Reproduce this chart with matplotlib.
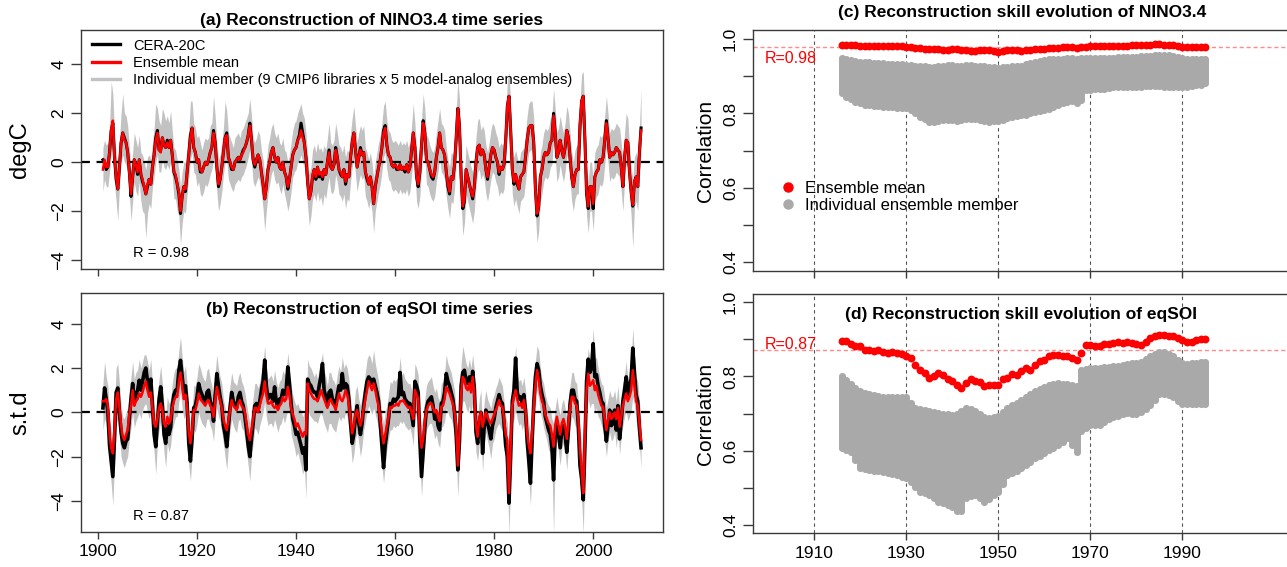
import numpy as np
import matplotlib
matplotlib.use('Agg')
import matplotlib.pyplot as plt
from matplotlib.lines import Line2D

plt.rcParams['font.family'] = ['Liberation Sans', 'DejaVu Sans']

# ---------------- data: time series, 3 values per year (Jan, May, Sep), 1901-2009
nino_mean = [
    -0.3, 0.1, -0.2, -0.2, 0.4, 1.3, 1.7, 0.2, -0.6, -1.1, -0.2, 0.8, 1.2, 0.9, 0.8, 0.4, -0.4, -1.3, -0.6, 0.1, -0.1, -0.4, 0.1, -0.5, -0.7, -1.0, -1.3,
    -0.9, -0.7, -0.9, -0.2, 0.3, 0.9, 1.2, 0.5, 0.4, 1.0, 0.7, 0.6, 0.8, 0.6, 0.9, 0.3, -0.4, -0.5, -0.9, -1.2, -2.0, -1.4, -1.0, -1.1, -0.4, 0.3, 1.0, 1.4, 0.6, 0.4,
    0.0, 0.1, -0.3, -0.4, -0.2, 0.0, -0.1, 0.1, 0.4, 0.6, 1.2, 0.8, -0.2, -0.9, -0.7, -0.2, 0.4, 1.0, 1.1, 0.2, 0.0, -0.2, -0.3, 0.0, 0.1, 0.2, 0.1, 0.3, 0.4, 0.6,
    0.8, 1.1, 1.5, 0.9, 0.1, -0.1, 0.1, 0.3, 0.1, -0.4, -0.9, -1.5, -1.0, -0.3, 0.0, 0.4, 0.6, 0.2, 0.0, 0.2, -0.2, -0.3, 0.0, -0.4, -0.6, -1.0, -0.7, -0.2, 0.3, 0.5,
    0.6, 0.9, 1.0, 1.3, 1.0, 0.8, 0.2, -0.8, -1.5, -1.2, -0.5, -0.3, -0.6, -0.2, -0.5, -0.4, -0.6, -0.3, -0.5, 0.0, 0.4, -0.2, -0.3, -0.1, 0.5, 0.2, -0.3, -0.4, -0.6, -0.3,
    -0.8, -0.5, -0.6, 0.2, 0.8, 1.2, 0.5, -0.2, 0.2, 0.5, 0.3, 0.4, -0.4, -0.6, -0.9, -0.6, -1.0, -1.7, -1.0, -0.6, -0.2, 0.1, 0.6, 1.2, 1.4, 0.7, 0.3, 0.2, -0.1, -0.2,
    -0.1, -0.2, -0.3, -0.1, -0.3, -0.2, -0.3, -0.1, -0.4, -0.2, 0.5, 1.2, 0.6, -0.6, -0.9, -0.4, 0.7, 1.6, 1.2, 0.1, 0.0, -0.3, -0.5, -0.6, -0.4, 0.2, 0.6, 1.2, 0.6, 0.5,
    0.3, -0.4, -0.9, -1.2, -0.6, -0.7, -0.1, 1.0, 2.2, 1.5, -0.6, -1.8, -1.5, -0.3, -0.6, -0.9, -1.2, -1.4, -1.0, 0.0, 0.6, 0.7, 0.3, 0.5, 0.3, -0.3, -0.6, -0.2, 0.3, 0.6,
    0.5, 0.2, 0.0, -0.4, -0.2, -0.3, -0.1, 0.9, 2.3, 2.7, 1.3, -0.3, -0.8, -0.5, -0.8, -1.1, -0.6, -0.5, -0.4, 0.2, 0.9, 1.4, 1.5, 1.5, 0.8, -1.1, -2.1, -1.8, -0.6, -0.3,
    0.2, 0.4, 0.3, 0.4, 0.8, 0.9, 1.9, 1.2, 0.2, 0.4, 0.9, 0.5, 0.2, 0.6, 1.3, 1.0, 0.2, -0.6, -1.0, -0.5, -0.3, -0.3, 1.5, 2.5, 2.7, 0.9, -1.2, -1.8, -1.0, -1.0,
    -1.7, -0.6, -0.4, -0.3, 0.1, 0.0, 0.2, 0.9, 1.6, 1.0, 0.2, 0.4, 0.3, 0.4, 0.6, 0.5, 0.4, -0.2, -1.0, 0.2, 0.9, 0.8, -0.4, -1.2, -1.75, -0.8, -0.6, -1.0, 0.4, 1.3,
]
nino_cera = [
    0.1, 0.0, -0.3, -0.2, 0.4, 1.3, 1.6, 0.2, -0.7, -1.1, -0.2, 0.8, 1.2, 1.0, 0.8, 0.4, -0.4, -1.4, -0.6, 0.1, -0.1, -0.5, 0.1, -0.5, -0.8, -1.0, -1.3,
    -1.0, -0.7, -0.9, -0.2, 0.3, 1.0, 1.3, 0.5, 0.5, 1.0, 0.7, 0.6, 0.9, 0.6, 0.9, 0.3, -0.4, -0.6, -0.9, -1.3, -2.1, -1.4, -1.0, -1.2, -0.4, 0.3, 1.1, 1.4, 0.6, 0.4,
    0.0, 0.1, -0.4, -0.4, -0.2, 0.0, -0.1, 0.1, 0.4, 0.6, 1.3, 0.8, -0.2, -1.0, -0.7, -0.2, 0.4, 1.0, 1.2, 0.2, 0.0, -0.3, -0.3, 0.0, 0.1, 0.2, 0.1, 0.3, 0.5, 0.6,
    0.8, 1.1, 1.6, 0.9, 0.1, -0.2, 0.1, 0.3, 0.1, -0.4, -0.9, -1.5, -1.0, -0.3, 0.0, 0.4, 0.6, 0.2, 0.0, 0.2, -0.2, -0.3, 0.0, -0.4, -0.6, -1.1, -0.7, -0.2, 0.3, 0.5,
    0.6, 0.9, 1.1, 1.6, 1.2, 0.8, 0.2, -0.8, -1.5, -1.2, -0.6, -0.3, -0.7, -0.2, -0.6, -0.5, -0.7, -0.3, -0.5, 0.0, 0.5, -0.2, -0.3, -0.1, 0.6, 0.2, -0.3, -0.5, -0.6, -0.3,
    -0.9, -0.5, -0.6, 0.2, 0.8, 1.2, 0.5, -0.2, 0.2, 0.6, 0.3, 0.4, -0.4, -0.7, -0.9, -0.6, -1.0, -1.7, -1.0, -0.6, -0.2, 0.1, 0.6, 1.3, 1.5, 0.7, 0.3, 0.2, -0.1, -0.2,
    -0.1, -0.3, -0.3, -0.1, -0.3, -0.2, -0.4, -0.1, -0.4, -0.2, 0.5, 1.2, 0.6, -0.6, -1.0, -0.4, 0.7, 1.7, 1.2, 0.1, 0.0, -0.3, -0.6, -0.7, -0.4, 0.2, 0.6, 1.2, 0.6, 0.5,
    0.3, -0.4, -1.0, -1.3, -0.6, -0.7, -0.1, 1.0, 2.2, 1.5, -0.6, -1.9, -1.6, -0.3, -0.6, -0.9, -1.2, -1.5, -1.0, 0.0, 0.6, 0.7, 0.3, 0.5, 0.3, -0.3, -0.7, -0.2, 0.3, 0.6,
    0.5, 0.2, 0.0, -0.5, -0.2, -0.3, -0.1, 0.9, 2.3, 2.7, 1.3, -0.3, -0.9, -0.5, -0.9, -1.1, -0.6, -0.5, -0.4, 0.2, 0.9, 1.4, 1.5, 1.5, 0.8, -1.1, -2.2, -1.8, -0.6, -0.3,
    0.2, 0.4, 0.3, 0.4, 0.8, 0.9, 2.0, 1.2, 0.2, 0.4, 0.9, 0.5, 0.2, 0.6, 1.3, 1.0, 0.2, -0.6, -1.0, -0.5, -0.3, -0.3, 1.5, 2.5, 2.7, 0.9, -1.3, -1.9, -1.0, -1.0,
    -1.9, -0.6, -0.4, -0.3, 0.1, 0.0, 0.2, 0.9, 1.7, 1.0, 0.2, 0.4, 0.3, 0.4, 0.6, 0.5, 0.4, -0.2, -1.0, 0.2, 0.9, 0.8, -0.4, -1.2, -1.8, -0.8, -0.6, -1.0, 0.4, 1.4,
]
nino_hi = [
    0.6, 0.9, 0.7, 0.8, 1.4, 3.3, 2.8, 1.2, 0.3, 0.0, 0.9, 2.0, 2.8, 2.0, 1.9, 1.5, 0.6, -0.3, 0.4, 1.2, 0.9, 0.6, 1.1, 0.4, 0.3, 0.0, -0.3,
    0.2, 0.3, 0.1, 0.8, 1.4, 2.4, 2.2, 1.7, 1.5, 2.2, 2.0, 1.7, 1.9, 1.6, 2.1, 1.3, 0.6, 0.5, 0.1, -0.3, -1.0, -0.4, 0.0, 0.0, 0.6, 1.3, 2.5, 2.5, 1.6, 1.4,
    1.0, 1.1, 0.8, 0.5, 0.8, 1.0, 0.9, 1.0, 1.5, 1.6, 2.7, 1.9, 0.8, 0.1, 0.3, 0.8, 1.4, 2.5, 2.1, 1.2, 1.0, 0.8, 0.6, 1.0, 1.1, 1.2, 1.0, 1.3, 1.4, 1.6,
    1.8, 2.0, 2.6, 1.9, 1.0, 0.8, 1.0, 1.3, 1.1, 0.5, 0.1, -0.5, 0.0, 0.7, 1.0, 1.4, 1.6, 1.2, 1.0, 1.2, 0.8, 0.7, 1.0, 0.5, 0.4, 0.0, 0.3, 0.8, 1.3, 1.6,
    1.7, 2.0, 2.2, 2.4, 2.0, 1.8, 1.2, 0.2, -0.5, -0.2, 0.5, 0.7, 0.4, 0.8, 0.5, 0.6, 0.4, 0.7, 0.5, 1.0, 1.6, 0.8, 0.7, 0.9, 1.6, 1.2, 0.7, 0.6, 0.4, 0.7,
    0.2, 0.5, 0.4, 1.2, 1.8, 2.3, 1.5, 0.8, 1.2, 1.5, 1.3, 1.5, 0.6, 0.4, 0.1, 0.4, 0.0, -0.7, 0.0, 0.4, 0.8, 1.1, 1.6, 2.3, 2.5, 1.7, 1.3, 1.2, 0.9, 0.8,
    0.9, 0.8, 0.7, 0.9, 0.7, 0.8, 0.7, 0.9, 0.6, 0.8, 1.5, 2.4, 1.6, 0.4, 0.1, 0.6, 1.7, 2.8, 2.2, 1.1, 1.0, 0.7, 0.5, 0.4, 0.6, 1.2, 1.7, 2.2, 1.6, 1.5,
    1.3, 0.6, 0.1, -0.2, 0.4, 0.3, 0.9, 2.0, 3.4, 2.6, 0.4, -0.8, -0.5, 0.7, 0.4, 0.1, -0.2, -0.4, 0.0, 1.0, 1.7, 1.8, 1.3, 1.5, 1.3, 0.7, 0.4, 0.8, 1.3, 1.6,
    1.5, 1.2, 1.0, 0.6, 0.8, 0.7, 0.9, 1.9, 3.3, 3.7, 2.4, 0.7, 0.2, 0.5, 0.2, -0.1, 0.4, 0.5, 0.6, 1.2, 1.9, 2.4, 2.5, 2.5, 1.8, -0.1, -1.1, -0.8, 0.4, 0.7,
    1.2, 1.4, 1.3, 1.4, 1.8, 1.9, 3.0, 2.2, 1.2, 1.4, 1.9, 1.5, 1.2, 1.6, 2.3, 2.0, 1.2, 0.4, 0.0, 0.5, 0.7, 0.7, 2.5, 3.6, 3.7, 1.9, -0.2, -0.8, 0.0, 0.0,
    -0.7, 0.4, 0.6, 0.7, 1.1, 1.0, 1.2, 1.9, 2.7, 2.0, 1.2, 1.4, 1.3, 1.4, 1.6, 1.5, 1.4, 0.8, 0.0, 1.2, 2.0, 1.8, 0.6, -0.2, -0.7, 0.2, 0.4, 0.0, 1.4, 3.0,
]
nino_lo = [
    -1.2, -0.7, -1.0, -1.0, -0.4, 0.3, 0.8, -0.9, -1.6, -2.4, -1.0, 0.0, 0.3, 0.0, -0.1, -0.5, -1.3, -2.4, -1.6, -0.8, -1.2, -1.4, -0.8, -1.6, -2.0, -2.1, -3.1,
    -2.1, -1.7, -1.9, -1.0, -0.6, 0.0, 0.3, -0.4, -0.4, 0.1, -0.2, -0.3, -0.1, -0.3, 0.0, -0.6, -1.5, -1.5, -2.0, -2.2, -3.4, -2.5, -2.0, -2.1, -1.3, -0.6, 0.1, 0.4, -0.4, -0.5,
    -1.0, -0.8, -1.3, -1.4, -1.2, -0.9, -1.0, -0.8, -0.5, -0.3, 0.2, -0.1, -1.2, -2.0, -1.7, -1.2, -0.5, 0.0, 0.1, -0.7, -0.9, -1.1, -1.2, -0.9, -0.8, -0.7, -0.8, -0.6, -0.5, -0.3,
    -0.1, 0.2, 0.5, 0.0, -0.8, -1.0, -0.8, -0.6, -0.8, -1.3, -1.9, -2.8, -2.0, -1.3, -0.9, -0.5, -0.3, -0.7, -0.9, -0.8, -1.1, -1.3, -0.9, -1.3, -1.6, -2.0, -1.7, -1.2, -0.6, -0.4,
    -0.3, 0.0, 0.1, 0.3, 0.0, -0.2, -0.8, -1.8, -2.6, -2.2, -1.5, -1.3, -1.6, -1.2, -1.6, -1.4, -1.8, -1.3, -1.5, -1.0, -0.6, -1.2, -1.3, -1.1, -0.5, -0.8, -1.3, -1.4, -1.6, -1.3,
    -1.9, -1.5, -1.6, -0.8, -0.2, 0.2, -0.5, -1.2, -0.8, -0.5, -0.7, -0.6, -1.4, -1.6, -1.9, -1.6, -2.0, -2.9, -2.0, -1.6, -1.2, -0.9, -0.4, 0.2, 0.4, -0.3, -0.7, -0.8, -1.1, -1.2,
    -1.1, -1.2, -1.3, -1.1, -1.3, -1.2, -1.3, -1.1, -1.4, -1.2, -0.5, 0.2, -0.4, -1.6, -1.9, -1.4, -0.3, 0.6, 0.2, -0.9, -1.0, -1.3, -1.5, -1.6, -1.4, -0.8, -0.4, 0.2, -0.4, -0.5,
    -0.7, -1.4, -1.9, -2.3, -1.6, -1.7, -1.1, 0.0, 1.1, 0.5, -1.6, -3.0, -2.5, -1.3, -1.6, -1.9, -2.2, -2.5, -2.0, -1.0, -0.4, -0.3, -0.7, -0.5, -0.7, -1.3, -1.6, -1.2, -0.7, -0.4,
    -0.5, -0.8, -1.0, -1.4, -1.2, -1.3, -1.1, -0.1, 1.3, 1.6, 0.3, -1.3, -1.8, -1.5, -1.8, -2.1, -1.6, -1.5, -1.4, -0.8, -0.1, 0.4, 0.5, 0.5, -0.2, -2.1, -3.3, -2.8, -1.6, -1.3,
    -0.8, -0.6, -0.7, -0.6, -0.2, -0.1, 0.9, 0.2, -0.8, -0.6, -0.1, -0.5, -0.8, -0.4, 0.3, 0.0, -0.8, -1.6, -2.0, -1.5, -1.3, -1.3, 0.5, 1.5, 1.7, -0.1, -2.2, -2.9, -2.0, -2.0,
    -2.8, -1.6, -1.4, -1.3, -0.9, -1.0, -0.8, -0.1, 0.6, 0.0, -0.8, -0.6, -0.7, -0.6, -0.4, -0.5, -0.6, -1.2, -2.0, -0.8, -0.1, -0.2, -1.4, -2.2, -3.5, -1.8, -1.6, -2.0, -0.6, 0.3,
]

soi_mean = [
    0.5, 0.5, 0.6, 0.3, -1.0, -1.6, -1.85, -0.8, 0.6, 0.9, 0.2, -0.6, -1.1, -1.25, -1.0, -0.8, -0.1, 0.3, 1.0, 0.3, 0.5, 0.6, 0.85, 0.7, 0.9, 1.2, 1.4,
    1.0, 0.7, 0.9, 0.2, -0.5, -0.65, -0.3, 0.2, 0.4, 0.1, -0.5, -0.65, -0.2, -0.5, -0.35, 0.2, 0.5, 0.7, 0.7, 1.4, 1.8, 1.2, 0.6, 0.8, 0.2, -0.9, -1.4, -0.8, 0.1, 0.1,
    0.4, 0.85, 0.6, 0.5, 0.4, 0.3, 0.5, 0.55, 0.3, 0.2, -0.2, 0.5, 1.15, 0.8, 0.5, 0.2, -0.3, -0.6, -0.8, -0.4, 0.1, 0.55, 0.3, 0.2, 0.1, 0.4, 0.55, 0.3, 0.2, 0.0,
    -0.5, -1.0, -1.25, -0.8, -0.3, 0.2, 0.2, 0.0, 0.3, 0.6, 0.85, 1.4, 0.8, 0.4, 0.4, 0.5, 0.3, 0.2, 0.3, 0.1, 0.3, 0.4, 0.7, 0.5, 0.6, 1.15, 0.8, 0.2, -0.1, -0.3,
    -0.65, -0.5, -0.7, -0.9, -1.1, -0.9, -1.0, 1.3, 1.0, 0.85, 0.7, 0.6, 0.6, 0.5, 0.7, 1.0, 0.8, 0.6, 0.4, 0.2, 0.5, 0.6, 0.4, 0.3, 0.1, 0.5, 0.85, 0.6, 0.5, 0.7,
    1.0, 0.8, 0.4, -0.3, -0.95, -0.6, -0.1, 0.1, -0.3, -0.6, -0.3, 0.2, 0.6, 1.0, 1.4, 1.2, 1.0, 1.3, 1.0, 0.6, 0.3, -0.3, -0.9, -1.4, -1.0, -0.6, -0.2, 0.25, 0.2, 0.3,
    0.3, 0.4, 0.3, 0.5, 0.5, 0.55, 0.4, 0.3, 0.2, 0.25, 0.0, -0.3, 1.0, 0.8, 0.6, -0.95, -1.6, -1.2, -0.4, 0.1, 0.3, 0.4, 0.4, 0.2, 0.0, 0.1, -0.2, -0.4, 0.25, 0.3,
    0.6, 1.15, 1.0, 0.85, 0.6, 0.4, 0.0, -0.6, -2.4, -1.0, 0.9, 1.6, 1.45, 1.1, 1.0, 1.3, 0.9, 1.6, 0.8, -0.6, -1.1, -0.3, 0.0, -0.65, -0.3, 0.0, -0.2, -0.4, -0.5, -0.3,
    -0.1, 0.1, 0.3, 0.55, 0.3, 0.25, -0.3, -1.0, -1.25, -3.65, -1.5, 0.3, 0.7, 1.0, 0.6, 0.3, 0.4, 0.2, 0.55, 0.1, -0.95, -1.5, -1.85, -0.9, 0.2, 1.2, 1.9, 1.5, 0.85, 0.5,
    0.3, -0.1, -0.3, -0.5, -0.6, -1.0, -1.55, -0.6, -0.2, -0.6, -1.0, -0.5, -0.3, -0.6, -1.2, -0.5, 0.2, 0.7, 0.7, 0.4, 0.3, -0.3, -1.7, -2.6, -3.65, -1.0, 1.0, 1.75, 1.2, 1.3,
    1.45, 1.0, 1.2, 0.8, 0.55, 0.3, 0.25, -0.3, -0.8, -0.3, 0.0, -0.3, -0.2, 0.0, -0.3, 0.2, -0.65, -0.2, 0.3, 0.6, 0.85, 0.5, 0.7, 1.0, 1.9, 1.2, 0.5, 0.3, -0.5, -1.25,
]
soi_cera = [
    0.2, 1.1, 0.6, 0.0, -1.5, -2.2, -2.9, -1.2, 0.9, 1.1, 0.0, -0.9, -1.4, -1.6, -1.3, -1.2, -0.3, 0.6, 1.3, 0.5, 0.8, 1.0, 1.45, 1.0, 1.4, 1.8, 2.0,
    1.4, 1.0, 1.5, 0.3, -1.0, -1.55, -0.5, 0.6, 1.15, 0.3, -1.0, -1.4, -0.6, -1.0, -0.7, 0.3, 0.8, 1.0, 1.0, 1.9, 2.35, 1.6, 0.9, 1.2, 0.4, -1.4, -2.2, -1.2, 0.2, 0.3,
    0.7, 1.3, 1.0, 0.8, 0.6, 0.4, 0.9, 1.0, 0.5, 0.3, -0.4, 0.8, 1.75, 1.2, 0.7, 0.3, -0.6, -1.0, -1.55, -0.7, 0.2, 0.9, 0.5, 0.3, 0.2, 0.7, 0.9, 0.5, 0.3, -0.2,
    -0.8, -1.5, -2.0, -1.2, -0.5, 0.3, 0.4, 0.1, 0.5, 1.0, 1.4, 2.36, 1.2, 0.6, 0.8, 0.8, 0.5, 1.15, 0.5, 0.2, 0.6, 0.6, 1.0, 0.8, 1.0, 2.05, 1.3, 0.4, -0.3, -0.6,
    -1.0, -0.9, -1.2, -1.5, -1.85, -1.6, -2.6, 1.5, 1.3, 1.2, 1.0, 0.9, 0.9, 0.7, 1.2, 1.6, 2.2, 1.0, 0.7, 0.3, 0.9, 1.0, 0.6, 0.5, 0.3, 0.8, 1.2, 1.0, 1.75, 1.1,
    1.3, 1.2, 0.6, -0.5, -1.4, -1.0, -0.2, 0.3, -0.5, -1.0, -0.5, 0.3, 0.9, 1.4, 1.6, 1.5, 1.3, 1.5, 1.2, 0.9, 0.5, -0.5, -1.5, -2.5, -1.5, -0.9, -0.3, 0.4, 0.3, 0.6,
    0.5, 0.6, 0.7, 1.8, 0.8, 0.9, 0.6, 0.5, 0.4, 0.4, -0.1, -0.6, 1.4, 1.2, 0.9, -1.3, -2.9, -1.8, -0.7, 0.2, 0.5, 0.6, 0.7, 0.3, -0.3, 0.0, -0.6, -0.8, 0.4, 0.5,
    0.9, 1.75, 1.4, 1.2, 0.9, 0.6, 0.0, -1.0, -2.6, -1.3, 1.2, 1.8, 1.9, 1.4, 1.3, 1.6, 1.2, 1.85, 1.1, -0.9, -1.4, -0.5, 0.0, -1.85, -0.6, 0.1, -0.5, -0.8, -1.2, -0.6,
    -0.3, 0.2, 0.5, 0.8, 0.5, 0.4, -0.5, -1.5, -2.0, -4.1, -2.0, 0.5, 1.0, 2.45, 0.9, 0.6, 0.7, 0.4, 0.8, 0.1, -1.3, -2.2, -3.2, -1.3, 0.4, 1.6, 2.2, 1.9, 1.2, 0.8,
    0.5, -0.2, -0.5, -0.8, -1.0, -1.6, -3.05, -1.0, -0.4, -1.0, -1.6, -0.8, -0.6, -1.0, -1.8, -0.8, 0.4, 1.0, 1.0, 0.6, 0.5, -0.6, -2.4, -3.0, -3.95, -1.5, 1.4, 2.4, 1.8, 2.0,
    3.1, 1.6, 1.7, 1.2, 0.9, 0.5, 0.4, -0.6, -1.3, -0.6, 0.1, -0.6, -0.5, 0.1, -0.8, 0.3, -1.2, -0.4, 0.5, 1.0, 1.6, 0.8, 1.2, 1.5, 2.9, 1.8, 0.8, 0.5, -0.7, -1.6,
]
soi_hi = [
    1.3, 2.3, 1.6, 1.2, -0.2, -0.8, -1.5, 0.2, 2.0, 2.2, 1.3, 0.3, -0.2, -0.3, 0.0, 0.2, 1.0, 1.6, 2.3, 1.5, 1.8, 1.9, 2.4, 2.0, 2.3, 2.6, 2.6,
    2.3, 1.9, 2.4, 1.3, 0.4, -0.3, 0.7, 1.5, 2.1, 1.3, 0.3, -0.2, 0.7, 0.4, 0.6, 1.3, 1.8, 2.0, 2.0, 2.8, 3.4, 2.5, 1.8, 2.1, 1.3, 0.0, -0.6, 0.1, 1.2, 1.2,
    1.6, 2.2, 2.0, 1.7, 1.5, 1.4, 1.9, 2.0, 1.5, 1.2, 0.7, 1.8, 2.6, 2.0, 1.6, 1.3, 0.6, 0.2, -0.2, 0.5, 1.2, 1.8, 1.4, 1.3, 1.2, 1.6, 1.8, 1.4, 1.2, 0.9,
    0.4, -0.1, -0.5, 0.1, 0.7, 1.3, 1.3, 1.1, 1.4, 1.8, 2.2, 3.0, 2.0, 1.5, 1.6, 1.7, 1.4, 1.9, 1.4, 1.1, 1.4, 1.5, 1.9, 1.7, 1.8, 2.7, 2.0, 1.2, 0.8, 0.5,
    0.3, 0.4, 0.2, 0.1, -0.2, 0.0, -0.7, 2.4, 2.1, 2.0, 1.8, 1.6, 1.8, 1.5, 2.0, 2.3, 2.7, 1.9, 1.6, 1.2, 1.8, 1.8, 1.5, 1.4, 1.2, 1.7, 2.1, 1.8, 2.5, 2.0,
    2.2, 2.0, 1.5, 0.7, -0.1, 0.2, 1.0, 1.2, 0.6, 0.3, 0.7, 1.2, 1.8, 2.4, 2.6, 2.5, 2.2, 2.8, 2.2, 1.8, 1.4, 0.6, -0.1, -0.5, 0.0, 0.3, 0.8, 1.4, 1.3, 1.5,
    1.4, 1.5, 1.6, 2.5, 1.7, 1.8, 1.5, 1.4, 1.3, 1.3, 1.0, 0.6, 2.2, 2.0, 1.7, -0.1, -0.6, -0.2, 0.6, 1.2, 1.4, 1.5, 1.6, 1.2, 0.9, 1.1, 0.7, 0.5, 1.3, 1.4,
    1.8, 2.6, 2.2, 2.0, 1.8, 1.4, 1.0, 0.0, -1.5, -0.2, 2.2, 3.0, 2.6, 2.2, 2.0, 2.4, 2.0, 2.6, 1.9, 0.3, -0.2, 0.6, 1.0, -0.8, 0.5, 1.0, 0.6, 0.4, 0.2, 0.6,
    0.8, 1.1, 1.3, 1.6, 1.4, 1.2, 0.5, -0.2, -0.5, -2.5, -0.4, 1.3, 1.8, 3.0, 1.7, 1.4, 1.5, 1.2, 1.6, 1.0, 0.0, -0.5, -1.0, 0.0, 1.3, 2.3, 3.0, 2.8, 2.0, 1.5,
    1.3, 0.8, 0.5, 0.3, 0.2, -0.3, -0.5, 0.2, 0.7, 0.2, -0.1, 0.4, 0.6, 0.2, -0.3, 0.4, 1.2, 1.8, 1.8, 1.4, 1.3, 0.5, -0.7, -1.4, -2.5, 0.2, 2.2, 2.9, 2.4, 2.6,
    3.8, 2.4, 2.5, 2.0, 1.6, 1.3, 1.2, 0.7, 0.2, 0.6, 1.0, 0.7, 0.7, 1.0, 0.5, 1.2, 0.2, 0.8, 1.3, 1.7, 2.3, 1.5, 1.9, 2.3, 3.8, 2.6, 1.6, 1.4, 0.5, -0.4,
]
soi_lo = [
    -0.8, -0.3, -0.5, -1.0, -2.5, -3.2, -4.2, -2.3, -0.5, -0.3, -1.0, -2.0, -2.3, -2.5, -2.2, -2.0, -1.2, -0.7, 0.0, -0.7, -0.4, -0.2, 0.0, -0.3, 0.1, 0.3, 0.4,
    0.0, -0.3, 0.0, -0.8, -1.8, -2.8, -1.4, -0.8, -0.4, -0.8, -1.8, -2.5, -1.4, -1.8, -1.5, -0.8, -0.5, -0.2, -0.2, 0.5, 0.9, 0.2, -0.3, -0.1, -0.9, -2.4, -3.1, -2.0, -0.8, -0.9,
    -0.5, 0.0, -0.3, -0.5, -0.6, -0.7, -0.3, -0.3, -0.6, -0.8, -1.3, -0.3, 0.2, -0.2, -0.4, -0.9, -1.4, -2.0, -2.6, -1.6, -0.8, -0.3, -0.6, -0.8, -0.9, -0.4, -0.3, -0.7, -0.8, -1.2,
    -1.8, -2.4, -3.1, -2.0, -1.4, -0.7, -0.8, -1.0, -0.6, -0.3, 0.0, 0.5, -0.2, -0.6, -0.5, -0.5, -0.7, -0.3, -0.6, -0.9, -0.6, -0.5, -0.2, -0.5, -0.2, 0.1, -0.1, -1.0, -1.3, -1.6,
    -2.0, -1.8, -2.1, -2.4, -2.8, -2.5, -3.9, 0.2, -0.1, -0.2, -0.3, -0.4, -0.4, -0.5, -0.2, 0.0, -0.2, -0.5, -0.7, -0.9, -0.5, -0.5, -0.7, -0.8, -0.9, -0.5, -0.2, -0.4, -0.2, -0.3,
    0.0, -0.2, -0.6, -1.4, -2.3, -1.9, -1.2, -0.9, -1.4, -2.0, -1.5, -0.8, -0.4, 0.0, 0.3, 0.1, -0.1, 0.2, -0.1, -0.4, -0.8, -1.5, -2.4, -3.2, -2.4, -1.7, -1.2, -0.8, -0.8, -0.6,
    -0.7, -0.6, -0.6, -0.4, -0.5, -0.4, -0.6, -0.7, -0.8, -0.7, -1.0, -1.5, 0.0, -0.2, -0.4, -2.2, -3.8, -2.6, -1.5, -0.8, -0.6, -0.5, -0.5, -0.8, -1.2, -1.0, -1.4, -1.6, -0.7, -0.6,
    -0.4, 0.2, 0.0, -0.2, -0.3, -0.6, -1.1, -2.0, -3.8, -2.2, 0.0, 0.5, 0.5, 0.2, 0.0, 0.3, -0.1, 0.5, -0.2, -1.8, -2.2, -1.4, -1.0, -2.7, -1.4, -0.9, -1.3, -1.6, -2.1, -1.4,
    -1.2, -0.8, -0.6, -0.5, -0.7, -0.8, -1.4, -2.5, -3.0, -5.5, -3.0, -0.5, -0.3, 0.1, -0.3, -0.6, -0.5, -0.8, -0.5, -0.9, -2.1, -3.0, -4.2, -2.2, -0.6, 0.4, 1.0, 0.6, 0.0, -0.3,
    -0.7, -1.0, -1.3, -1.7, -1.8, -2.4, -5.5, -1.8, -1.2, -1.8, -2.4, -1.6, -1.4, -1.8, -2.6, -1.6, -0.6, -0.2, -0.3, -0.6, -0.7, -1.4, -3.2, -3.9, -5.5, -2.2, 0.0, 0.6, 0.2, 0.4,
    0.4, 0.0, 0.2, -0.2, -0.3, -0.6, -0.8, -1.3, -2.0, -1.3, -0.9, -1.3, -1.2, -0.9, -1.6, -0.8, -1.9, -1.1, -0.6, -0.2, 0.1, -0.4, -0.2, 0.1, 0.7, 0.3, -0.4, -0.7, -1.5, -2.5,
]

# ---------------- data: 31-yr running correlation, centre years 1916-1995
skill_years = np.arange(1916, 1996)
nino_r_mean = [
    .985, .985, .984, .984, .983, .983, .982, .982, .982, .982,
    .982, .982, .981, .981, .980, .979, .977, .976, .975, .974,
    .973, .973, .972, .972, .973, .973, .972, .970, .969, .969,
    .970, .971, .970, .968, .965, .968, .970, .970, .970, .969,
    .970, .972, .974, .975, .975, .976, .976, .977, .978, .978,
    .978, .977, .978, .980, .981, .981, .981, .981, .982, .982,
    .982, .983, .983, .984, .984, .984, .985, .985, .986, .986,
    .985, .985, .984, .983, .980, .979, .979, .979, .979, .979,
]
nino_r_hi = [
    .949, .947, .944, .942, .940, .939, .938, .937, .936, .935,
    .934, .934, .933, .932, .931, .930, .929, .928, .927, .926,
    .925, .927, .929, .930, .930, .929, .929, .930, .930, .929,
    .928, .927, .926, .925, .922, .924, .926, .927, .928, .929,
    .932, .935, .938, .941, .944, .946, .947, .948, .948, .949,
    .949, .948, .949, .950, .950, .950, .950, .950, .950, .950,
    .951, .951, .952, .952, .953, .954, .955, .956, .957, .958,
    .958, .957, .955, .952, .950, .948, .946, .946, .946, .946,
]
nino_r_lo = [
    .854, .845, .838, .832, .827, .824, .822, .820, .819, .818,
    .818, .817, .816, .815, .814, .808, .800, .791, .784, .777,
    .778, .780, .781, .782, .782, .780, .783, .785, .786, .786,
    .783, .779, .777, .779, .780, .783, .787, .790, .793, .795,
    .797, .800, .803, .806, .809, .813, .818, .823, .828, .832,
    .834, .828, .836, .863, .864, .865, .866, .867, .868, .870,
    .870, .871, .871, .872, .872, .872, .873, .873, .874, .873,
    .872, .872, .870, .870, .870, .872, .874, .876, .878, .881,
]
soi_r_mean = [
    .896, .896, .887, .883, .883, .872, .872, .869, .872, .867,
    .863, .867, .863, .861, .854, .851, .831, .818, .809, .797,
    .800, .809, .803, .794, .787, .778, .770, .782, .793, .787,
    .785, .775, .776, .776, .776, .794, .797, .806, .804, .815,
    .822, .818, .831, .842, .845, .854, .858, .858, .856, .856,
    .851, .845, .863, .885, .885, .883, .883, .887, .888, .890,
    .892, .890, .892, .889, .887, .885, .892, .903, .908, .912,
    .912, .910, .908, .903, .899, .894, .892, .899, .901, .900,
]
soi_r_hi = [
    .800, .790, .780, .770, .760, .756, .752, .750, .748, .746,
    .746, .746, .746, .744, .746, .730, .715, .712, .710, .706,
    .704, .702, .700, .698, .697, .700, .708, .715, .712, .706,
    .698, .692, .688, .690, .695, .705, .715, .722, .730, .737,
    .745, .752, .760, .767, .773, .776, .779, .782, .781, .780,
    .778, .775, .818, .820, .822, .823, .824, .825, .826, .827,
    .829, .831, .833, .835, .836, .840, .846, .854, .860, .867,
    .866, .860, .854, .845, .836, .834, .835, .837, .838, .840,
]
soi_r_lo = [
    .607, .603, .598, .575, .553, .551, .549, .547, .545, .544,
    .541, .538, .535, .530, .526, .515, .503, .490, .486, .481,
    .473, .463, .459, .455, .448, .437, .437, .473, .478, .481,
    .473, .463, .470, .480, .490, .510, .535, .541, .547, .553,
    .562, .571, .580, .587, .594, .601, .608, .616, .625, .634,
    .615, .598, .652, .661, .670, .670, .670, .677, .685, .692,
    .695, .698, .701, .699, .698, .705, .713, .723, .738, .754,
    .752, .750, .745, .735, .727, .727, .727, .727, .727, .727,
]

for arr in (nino_mean, nino_cera, nino_hi, nino_lo, soi_mean, soi_cera, soi_hi, soi_lo):
    assert len(arr) == len(nino_mean), len(arr)
t = 1901 + np.arange(len(nino_mean)) / 3.0

W, H = 1287, 567
fig = plt.figure(figsize=(W / 100, H / 100), dpi=100)
fig.patch.set_facecolor('white')


def add_ax(l, r, t_, b):
    return fig.add_axes([l / W, 1 - b / H, (r - l) / W, (b - t_) / H])


def style(ax):
    for s in ax.spines.values():
        s.set_color('#3a3a3a')
        s.set_linewidth(1.0)
    ax.tick_params(axis='x', direction='out', length=5, width=1, color='#3a3a3a', labelsize=12.5, pad=4)
    ax.tick_params(axis='y', direction='out', length=7.5, width=1, color='#3a3a3a', labelsize=12.5, pad=3,
                   labelrotation=90)
    for lab in ax.get_yticklabels():
        lab.set_va('center')


GRAY = '#c2c2c2'

# ---------------- (a) and (b): time series
ax_a = add_ax(81, 663, 29.5, 269)
ax_b = add_ax(81, 663, 292.5, 531.5)
for ax, cera, mean, hi, lo, ylim, rtxt in [
    (ax_a, nino_cera, nino_mean, nino_hi, nino_lo, (-4.37, 5.43), 'R = 0.98'),
    (ax_b, soi_cera, soi_mean, soi_hi, soi_lo, (-5.38, 5.41), 'R = 0.87'),
]:
    ax.fill_between(t, lo, hi, color=GRAY, lw=0, zorder=1)
    ax.axhline(0, color='black', lw=1.6, ls=(0, (4, 3)), zorder=2)
    ax.plot(t, cera, color='black', lw=2.6 if ax is ax_b else 2.2, zorder=3)
    ax.plot(t, mean, color='red', lw=1.8, zorder=4)
    ax.set_xlim(1896.57, 2014.1)
    ax.set_ylim(*ylim)
    ax.set_xticks(range(1900, 2001, 20))
    ax.set_yticks([-4, -2, 0, 2, 4])
    style(ax)
    ax.text(0.0893, 0.066, rtxt, transform=ax.transAxes, fontsize=10.5, ha='left', va='center')
ax_a.tick_params(axis='x', labelbottom=False)

handles = [Line2D([], [], color='black', lw=2.4), Line2D([], [], color='red', lw=2.4),
           Line2D([], [], color=GRAY, lw=2.4)]
labels = ['CERA-20C', 'Ensemble mean',
          'Individual member (9 CMIP6 libraries x 5 model-analog ensembles)']
ax_a.legend(handles, labels, loc='upper left', bbox_to_anchor=(0.019, 0.962), frameon=False,
            fontsize=10.5, borderpad=0, borderaxespad=0, handlelength=1.9, handletextpad=0.9,
            labelspacing=0.22)

# ---------------- (c) and (d): skill evolution
ax_c = add_ax(752.5, 1294.6, 30, 270.7)
ax_d = add_ax(752.5, 1294.6, 294, 533.3)
for ax, rm, rhi, rlo, ylim, rval in [
    (ax_c, nino_r_mean, nino_r_hi, nino_r_lo, (0.376, 1.025), 0.98),
    (ax_d, soi_r_mean, soi_r_hi, soi_r_lo, (0.378, 1.022), 0.87),
]:
    ax.set_xlim(1896.64, 2014.36)
    ax.set_ylim(*ylim)
    ax.set_xticks(range(1910, 1991, 20))
    ax.set_yticks(np.round(np.arange(0.4, 1.01, 0.1), 1))
    ax.set_yticklabels(['0.4', '', '0.6', '', '0.8', '', '1.0'])
    ax.grid(axis='x', color='#555555', ls=(0, (3, 3)), lw=0.8)
    ax.set_axisbelow(True)
    ax.axhline(rval, color='#ff8c8c', ls=(0, (3, 2)), lw=1.0, zorder=1)
    ax.vlines(skill_years, rlo, rhi, color='#a9a9a9', lw=5, zorder=2)
    ax.scatter(np.r_[skill_years, skill_years], np.r_[rlo, rhi], s=26, color='#a9a9a9', lw=0, zorder=2)
    ax.scatter(skill_years, rm, s=32, color='red', lw=0, zorder=3)
    style(ax)

ax_c.tick_params(axis='x', labelbottom=False)
ax_c.text(0.023, 0.882, 'R=0.98', transform=ax_c.transAxes, color='red', fontsize=11.5, va='center')
ax_d.text(0.023, 0.791, 'R=0.87', transform=ax_d.transAxes, color='red', fontsize=11.5, va='center')

lh = [Line2D([], [], marker='o', ls='', color='red', markersize=6.5),
      Line2D([], [], marker='o', ls='', color='#a9a9a9', markersize=6.5)]
ax_c.legend(lh, ['Ensemble mean', 'Individual ensemble member'], loc='upper left',
            bbox_to_anchor=(0.0507, 0.373), frameon=False, fontsize=12, borderpad=0,
            borderaxespad=0, handlelength=1.0, handletextpad=0.5, labelspacing=0.1)

# ---------------- titles and axis labels
fig.text(372 / W, 1 - 20 / H, '(a) Reconstruction of NINO3.4 time series', fontsize=12.5,
         fontweight='bold', ha='center', va='center')
fig.text(370 / W, 1 - 309.5 / H, '(b) Reconstruction of eqSOI time series', fontsize=12.5,
         fontweight='bold', ha='center', va='center')
fig.text(1022 / W, 1 - 12 / H, '(c) Reconstruction skill evolution of NINO3.4', fontsize=12.5,
         fontweight='bold', ha='center', va='center')
fig.text(1021 / W, 1 - 314.5 / H, '(d) Reconstruction skill evolution of eqSOI', fontsize=12.5,
         fontweight='bold', ha='center', va='center')

fig.text(20 / W, 1 - 150 / H, 'degC', rotation=90, fontsize=17, ha='center', va='center')
fig.text(20 / W, 1 - 413 / H, 's.t.d', rotation=90, fontsize=17, ha='center', va='center')
fig.text(705 / W, 1 - 151 / H, 'Correlation', rotation=90, fontsize=15, ha='center', va='center')
fig.text(705 / W, 1 - 414 / H, 'Correlation', rotation=90, fontsize=15, ha='center', va='center')

fig.savefig('out.png', dpi=100)
